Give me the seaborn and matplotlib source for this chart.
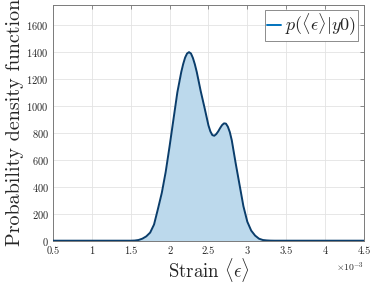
import numpy as np
import pandas as pd
import matplotlib
matplotlib.use("Agg")
import matplotlib.pyplot as plt
from matplotlib.lines import Line2D
from matplotlib.ticker import FormatStrFormatter, MultipleLocator
import seaborn as sns

# strain values (units of 1e-3) and density
strain_e3 = [0.50, 1.00, 1.50, 1.55, 1.60, 1.65, 1.70, 1.75, 1.80, 1.85, 1.90, 1.95,
             2.00, 2.05, 2.10, 2.15, 2.175, 2.20, 2.225, 2.25, 2.275, 2.30, 2.325,
             2.35, 2.40, 2.45, 2.50, 2.525, 2.55, 2.575, 2.60, 2.625, 2.65, 2.675,
             2.70, 2.725, 2.75, 2.775, 2.80, 2.85, 2.90, 2.95, 3.00, 3.05,
             3.10, 3.15, 3.20, 3.25, 3.30, 3.35, 3.50, 4.00, 4.50]
density = [0, 0, 0, 1, 5, 15, 32, 60, 120, 235, 355, 510,
           700, 900, 1100, 1250, 1310, 1358, 1388, 1398, 1388, 1355, 1308,
           1250, 1110, 985, 855, 810, 783, 778, 790, 810, 835, 857,
           870, 868, 845, 805, 745, 575, 415, 255, 141, 75,
           38, 15, 5, 2, 0.5, 0, 0, 0, 0]
xticks = [0.5, 1, 1.5, 2, 2.5, 3, 3.5, 4, 4.5]
legend_label = r'$p(\langle\epsilon\rangle|y0)$'
xlabel = r'Strain $\langle\epsilon\rangle$'
ylabel = 'Probability density function'
xscale_label = r'$\times10^{-3}$'

sns.set_style("white")
plt.rcParams['font.family'] = 'serif'
plt.rcParams['font.serif'] = ['cmr10', 'DejaVu Serif']
plt.rcParams['mathtext.fontset'] = 'cm'
plt.rcParams['axes.formatter.use_mathtext'] = True
plt.rcParams['axes.unicode_minus'] = False

df = pd.DataFrame({'x': strain_e3, 'y': density})

fig = plt.figure(figsize=(3.74, 2.83), dpi=100)
ax = fig.add_axes([0.1417, 0.1495, 0.8313, 0.834])

line_col = '#0a3d6b'
fill_col = '#bcd9ec'
ax.fill_between(df['x'], df['y'], 0, color=fill_col, lw=0, zorder=2)
sns.lineplot(data=df, x='x', y='y', ax=ax, color=line_col, lw=1.4, zorder=3,
             legend=False, sort=False)

ax.set_xlim(0.5, 4.5)
ax.set_ylim(0, 1750)
ax.set_xticks(xticks)
ax.xaxis.set_major_formatter(FormatStrFormatter('%g'))
ax.yaxis.set_major_locator(MultipleLocator(200))

ax.grid(True, color='#e3e3e3', lw=0.6, zorder=0)
ax.set_axisbelow(True)
for s in ax.spines.values():
    s.set_color('#7a7a7a')
    s.set_linewidth(0.7)
ax.tick_params(direction='in', top=True, right=True, length=3, width=0.6,
               color='#7a7a7a', labelsize=7.5, labelcolor='#262626')
ax.tick_params(axis='x', pad=4)
ax.tick_params(axis='y', pad=3)
ax.text(1.0, -0.085, xscale_label, transform=ax.transAxes, ha='right', va='top',
        fontsize=7, color='#262626')

ax.set_xlabel(xlabel, fontsize=13.5, labelpad=0, color='#262626')
ax.set_ylabel(ylabel, fontsize=14.5, labelpad=2, color='#262626')

handle = Line2D([0], [0], color='#0072bd', lw=1.4)
leg = ax.legend([handle], [legend_label], loc='upper right', fontsize=13,
                fancybox=False, framealpha=1, edgecolor='#7a7a7a',
                borderaxespad=0.3, handlelength=0.8, handletextpad=0.2,
                borderpad=0.12)
leg.get_frame().set_linewidth(0.6)

fig.savefig('out.png', dpi=100)
